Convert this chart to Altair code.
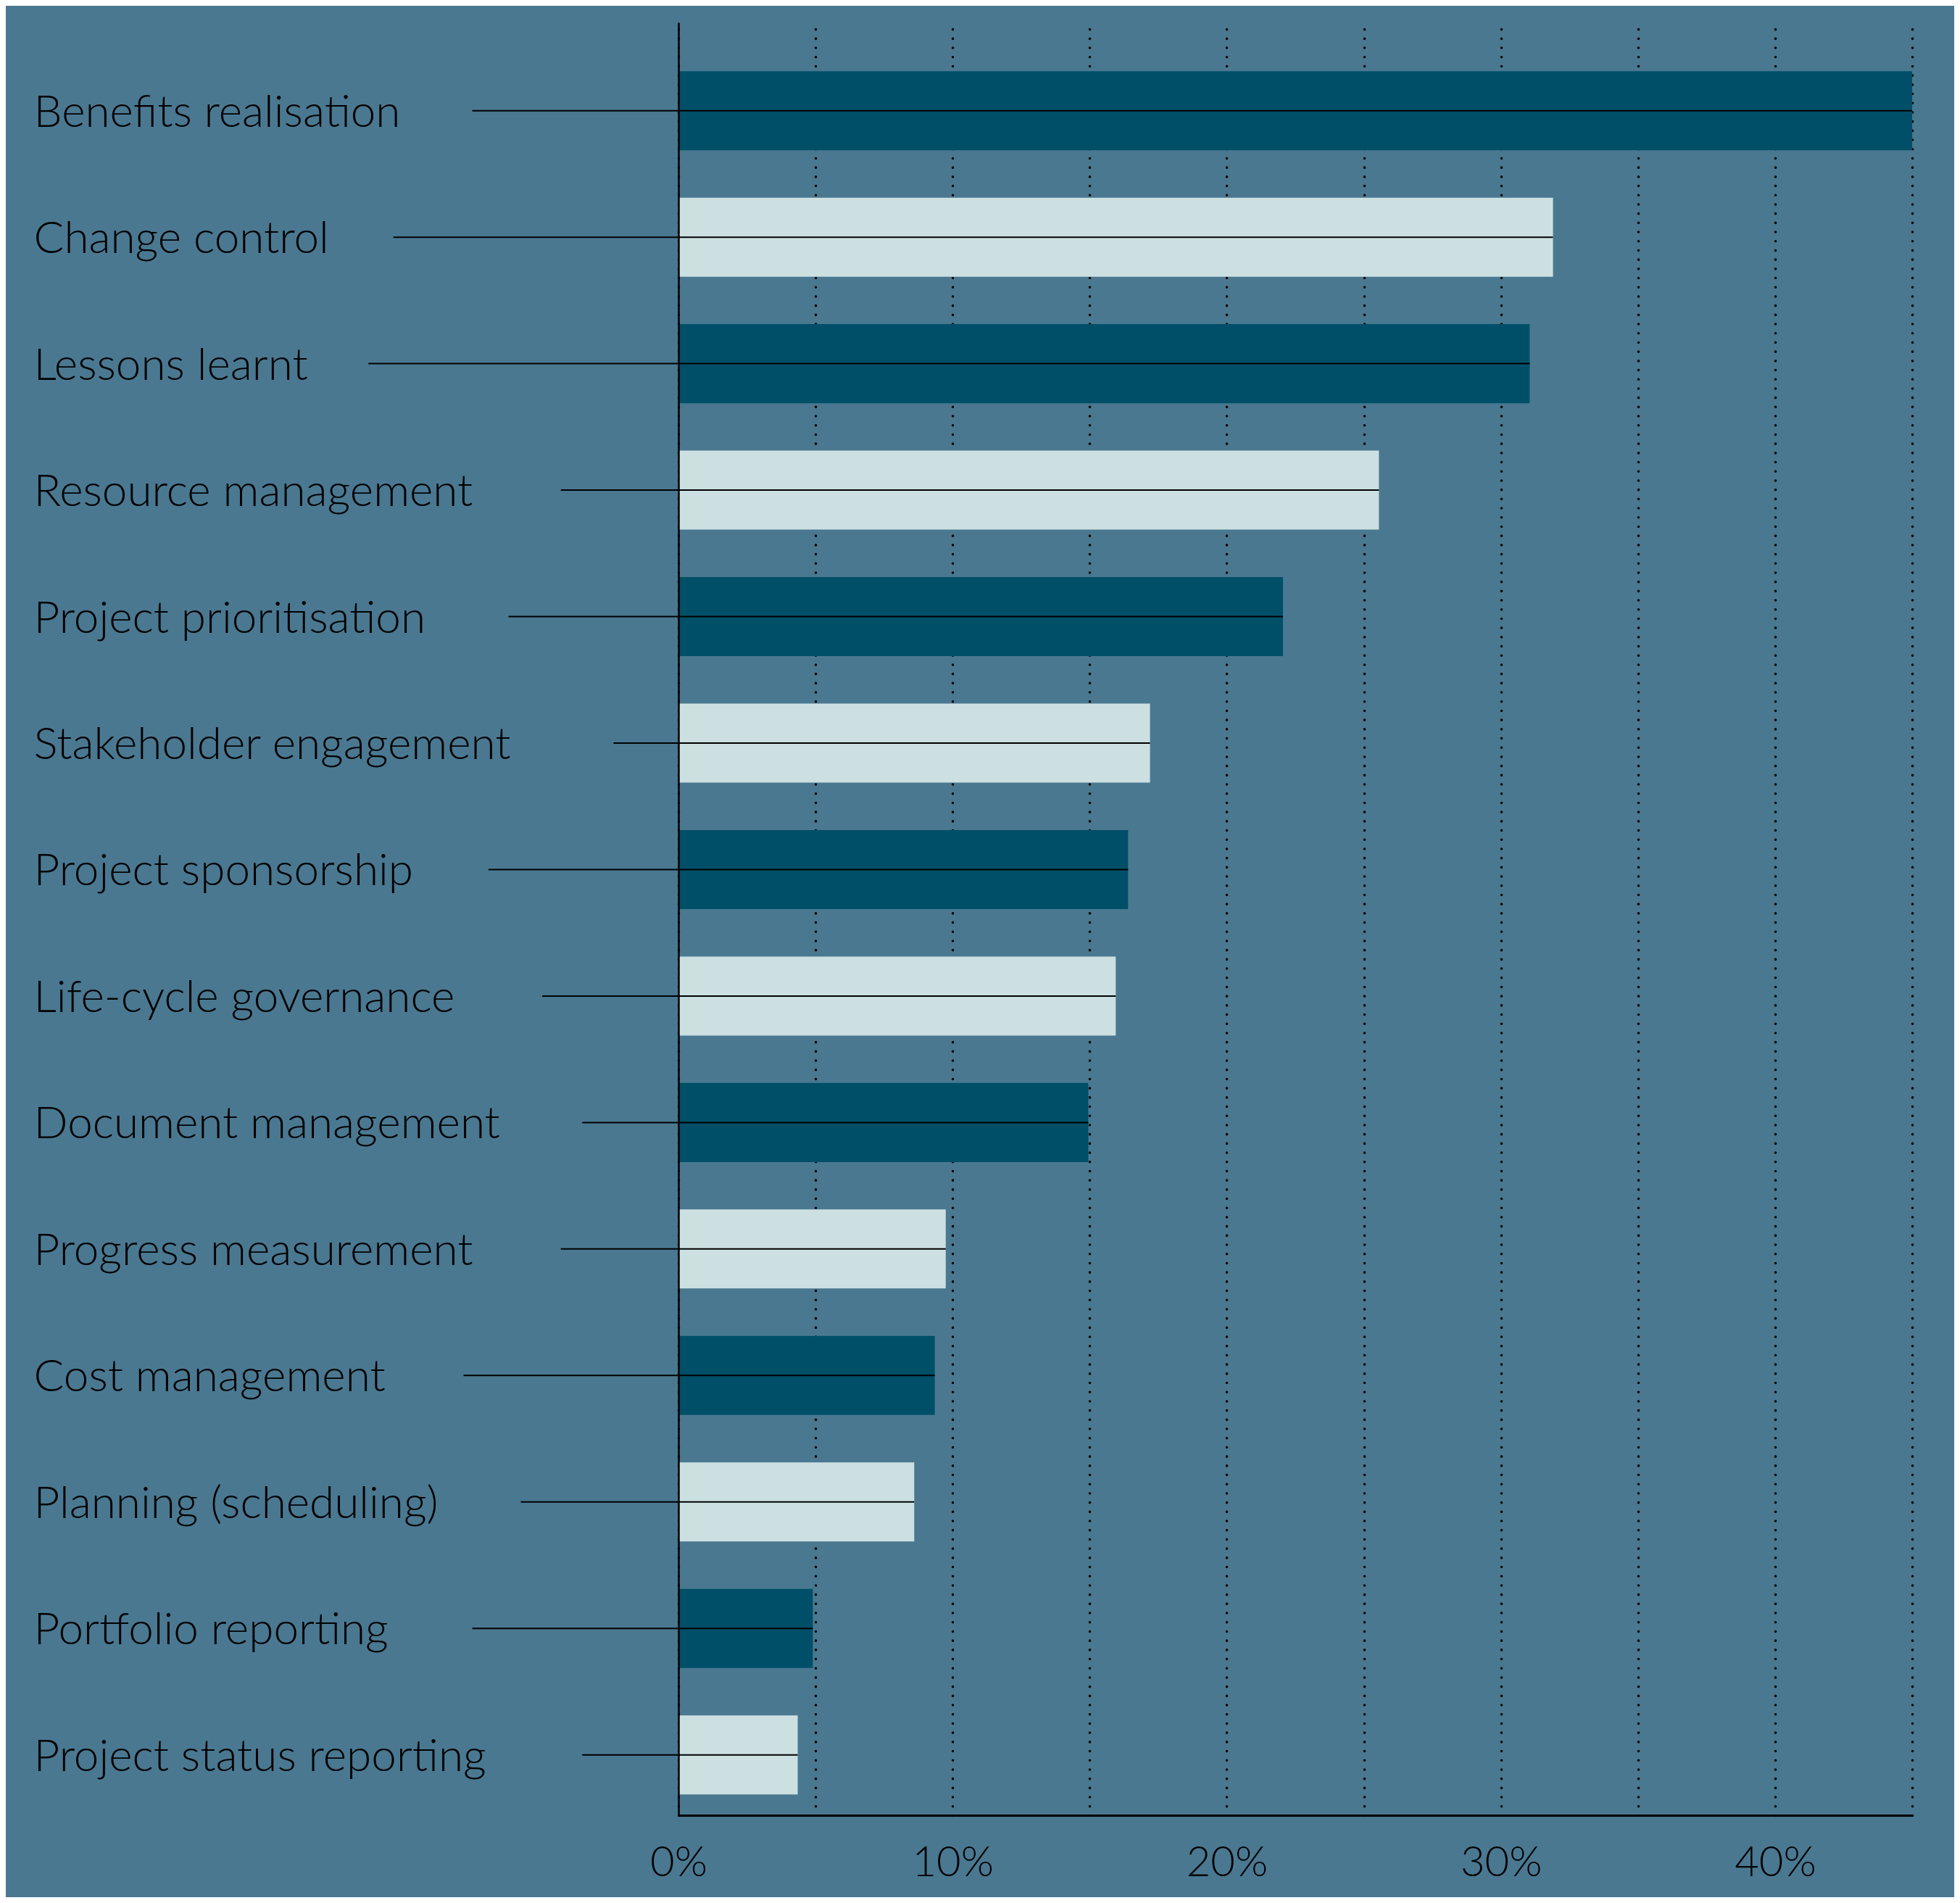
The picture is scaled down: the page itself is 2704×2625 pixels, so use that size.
import altair as alt
import pandas as pd

categories = [
    "Benefits realisation", "Change control", "Lessons learnt", "Resource management",
    "Project prioritisation", "Stakeholder engagement", "Project sponsorship",
    "Life-cycle governance", "Document management", "Progress measurement",
    "Cost management", "Planning (scheduling)", "Portfolio reporting",
    "Project status reporting",
]
values = [45.0, 31.9, 31.05, 25.55, 22.05, 17.2, 16.4, 15.95, 14.95, 9.75, 9.35, 8.6, 4.9, 4.35]
# where each leader line starts (in % units, left of the axis)
leader_from = [-7.52, -10.4, -11.31, -4.29, -6.2, -2.37, -6.93, -4.97, -3.51, -4.29, -7.84, -5.75, -7.52, -3.51]
shade = ["dark" if i % 2 == 0 else "light" for i in range(len(categories))]

df = pd.DataFrame({"category": categories, "value": values, "leader": leader_from, "shade": shade})

FONT = "Lato"
FS = 62

y_enc = alt.Y(
    "category:N", sort=categories, title=None,
    scale=alt.Scale(paddingInner=0.375, paddingOuter=0.275, align=0.7),
    axis=alt.Axis(labelAlign="left", labelPadding=890, ticks=False, labelLimit=1500,
                  labelFontSize=FS, labelFont=FONT, labelFontWeight=300, labelColor="#000000",
                  domainColor="#000000", domainWidth=2.5, zindex=2, grid=False,
                  labelBaseline="middle", labelOffset=3),
)

x_enc = alt.X(
    "value:Q", title=None,
    scale=alt.Scale(domain=[0, 45], nice=False),
    axis=alt.Axis(values=list(range(0, 50, 5)),
                  labelExpr="datum.value % 10 == 0 ? datum.value + '%' : ''",
                  grid=True, gridColor="#000000", gridDash=[0.1, 12.6], gridCap="round", gridWidth=3.5,
                  ticks=False, domainColor="#000000", domainWidth=3, labelPadding=66,
                  labelBaseline="middle", labelFlush=False, labelOverlap=False,
                  labelFontSize=58, labelFont=FONT, labelFontWeight=300, labelColor="#000000"),
)

bars = alt.Chart(df).mark_bar().encode(
    x=x_enc,
    y=y_enc,
    color=alt.Color("shade:N", scale=alt.Scale(domain=["dark", "light"], range=["#004F68", "#CCE0E2"]), legend=None),
)

rules = alt.Chart(df).mark_rule(color="#000000", strokeWidth=2).encode(
    x=alt.X("leader:Q"),
    x2="value:Q",
    y=alt.Y("category:N", sort=categories),
)

chart = alt.layer(bars, rules).properties(
    width=1702, height=2473,
    autosize=alt.AutoSizeParams(type="none"),
    padding={"left": 928, "top": 23, "right": 58, "bottom": 113},
    background="#4A7891",
).configure_view(stroke=None)

chart.save("out.html", embed_options={"renderer": "svg", "actions": False})
